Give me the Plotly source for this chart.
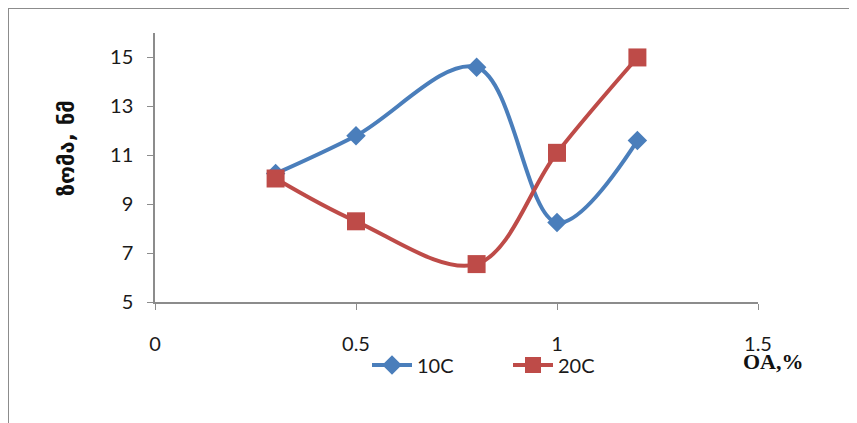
import plotly.graph_objects as go

x_vals = [0.3, 0.5, 0.8, 1.0, 1.2]
s10 = [10.25, 11.8, 14.6, 8.25, 11.6]
s20 = [10.05, 8.3, 6.55, 11.1, 15.0]
series_names = ["10C", "20C"]
x_ticks = [0, 0.5, 1, 1.5]
y_ticks = [5, 7, 9, 11, 13, 15]

tick_font = dict(family="Lato, Open Sans, sans-serif", size=20, color="#1a1a1a")

fig = go.Figure()
fig.add_trace(go.Scatter(
    x=x_vals, y=s10, name=series_names[0], mode="lines+markers",
    line=dict(color="#4A7EBB", width=4, shape="spline", smoothing=1),
    marker=dict(symbol="diamond", size=15, color="#4A7EBB"),
))
fig.add_trace(go.Scatter(
    x=x_vals, y=s20, name=series_names[1], mode="lines+markers",
    line=dict(color="#BE4B48", width=4, shape="spline", smoothing=1),
    marker=dict(symbol="square", size=18, color="#BE4B48"),
))

# page has an 8px body margin, so margins are reduced by 8 on left/top
fig.update_layout(
    width=857, height=423,
    margin=dict(l=147, r=107, t=25, b=129),
    paper_bgcolor="white", plot_bgcolor="white",
    showlegend=True,
    legend=dict(orientation="h", x=(367 - 155) / 603, y=-0.234, xanchor="left", yanchor="middle",
                font=tick_font, itemwidth=40, entrywidth=86, entrywidthmode="pixels",
                bgcolor="rgba(0,0,0,0)"),
    xaxis=dict(range=[0, 1.5], tickvals=x_ticks, ticktext=["0", "0.5", "1", "1.5"],
               showgrid=False, zeroline=False, showline=True, linecolor="#8c8c8c", linewidth=1.5,
               ticks="outside", ticklen=6, tickcolor="#8c8c8c", tickfont=tick_font,
               ticklabelstandoff=17),
    yaxis=dict(range=[5, 16], tickvals=y_ticks, showgrid=False, zeroline=False,
               showline=True, linecolor="#8c8c8c", linewidth=1.5,
               ticks="outside", ticklen=6, tickcolor="#8c8c8c", tickfont=tick_font,
               ticklabelstandoff=10),
    shapes=[dict(type="rect", xref="paper", yref="paper",
                 x0=-0.2438, x1=1.1526, y0=-0.5, y1=1.093,
                 line=dict(color="#8c8c8c", width=2), fillcolor="rgba(0,0,0,0)")],
    annotations=[
        dict(text="<b>OA,%</b>", xref="paper", yref="paper", x=(773 - 155) / 603, y=(302 - 361) / 269,
             showarrow=False, font=dict(family="Liberation Serif, serif", size=22, color="#111"),
             xanchor="center", yanchor="middle"),
        dict(text="<b>ზომა, ნმ</b>", xref="paper", yref="paper", x=(66 - 155) / 603, y=(302 - 148) / 269,
             showarrow=False, textangle=-90, font=dict(family="DejaVu Sans, sans-serif", size=22, color="#111"),
             xanchor="center", yanchor="middle"),
    ],
)

fig.write_html("out.html")
